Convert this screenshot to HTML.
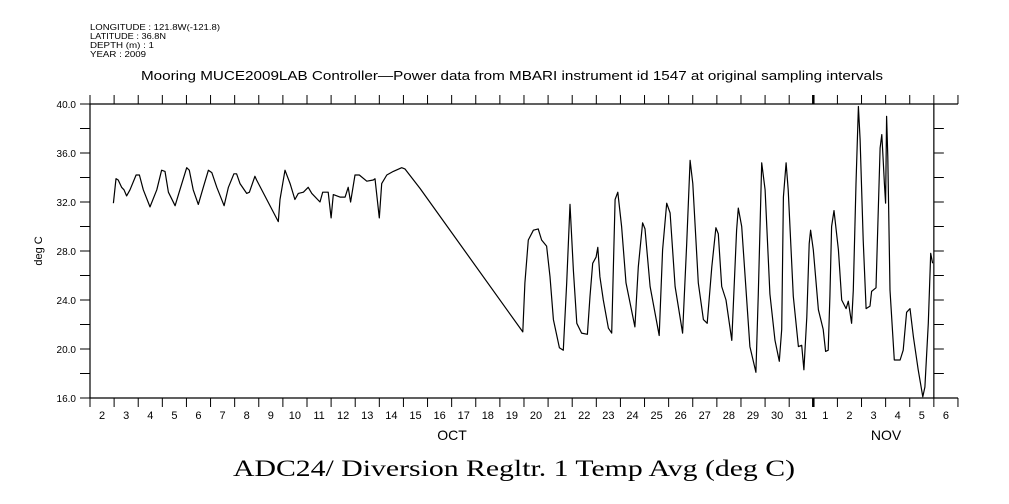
<!DOCTYPE html>
<html><head><meta charset="utf-8"><style>
html,body{margin:0;padding:0;background:#fff;}
svg{display:block;font-family:"Liberation Sans",sans-serif;}
</style></head><body>
<svg id="chart" width="1009" height="504" viewBox="0 0 1009 504" xmlns="http://www.w3.org/2000/svg">
<g font-size="8" fill="#000">
<text x="90" y="30" textLength="130" lengthAdjust="spacingAndGlyphs">LONGITUDE : 121.8W(-121.8)</text>
<text x="90" y="39" textLength="76" lengthAdjust="spacingAndGlyphs">LATITUDE : 36.8N</text>
<text x="90" y="48" textLength="64" lengthAdjust="spacingAndGlyphs">DEPTH (m) : 1</text>
<text x="90" y="57" textLength="56" lengthAdjust="spacingAndGlyphs">YEAR : 2009</text>
</g>
<text x="141" y="80" textLength="742" lengthAdjust="spacingAndGlyphs" font-size="13">Mooring MUCE2009LAB Controller—Power data from MBARI instrument id 1547 at original sampling intervals</text>
<text x="233" y="476" textLength="562" lengthAdjust="spacingAndGlyphs" font-family="Liberation Serif, serif" font-size="23">ADC24/ Diversion Regltr. 1 Temp Avg (deg C)</text>
<text transform="translate(42,251) rotate(-90)" text-anchor="middle" font-size="11">deg C</text>
<text x="452" y="440" text-anchor="middle" font-size="14">OCT</text>
<text x="886" y="440" text-anchor="middle" font-size="14">NOV</text>
<g id="axes"></g>
<g id="series"></g>
</svg>
<script>
const dayLabels=["2","3","4","5","6","7","8","9","10","11","12","13","14","15","16","17","18","19","20","21","22","23","24","25","26","27","28","29","30","31","1","2","3","4","5","6"];
const yTicks=[16,20,24,28,32,36,40];
const tempDays=[0.97,1.08,1.17,1.31,1.41,1.52,1.66,1.91,2.05,2.21,2.49,2.77,2.97,3.11,3.25,3.53,3.73,4.01,4.12,4.28,4.49,4.70,4.91,5.05,5.26,5.56,5.74,5.97,6.08,6.22,6.50,6.61,6.84,6.91,7.81,7.88,8.09,8.30,8.50,8.64,8.85,9.05,9.20,9.54,9.65,9.88,10.00,10.09,10.37,10.58,10.71,10.81,10.99,11.17,11.48,11.75,11.82,12.00,12.10,12.31,12.58,12.93,13.06,13.69,17.95,18.04,18.18,18.39,18.59,18.73,18.94,19.08,19.22,19.47,19.63,19.77,19.91,20.05,20.19,20.39,20.63,20.74,20.85,20.99,21.06,21.15,21.29,21.50,21.64,21.78,21.89,22.05,22.23,22.60,22.74,22.92,23.02,23.23,23.61,23.75,23.92,24.06,24.27,24.58,24.75,24.89,25.00,25.23,25.44,25.60,25.79,25.96,26.06,26.20,26.38,26.62,26.82,26.89,27.03,27.37,27.62,27.72,27.86,28.00,28.20,28.41,28.59,28.69,28.76,28.87,28.96,29.17,29.38,29.52,29.61,29.73,29.83,29.89,30.00,30.21,30.41,30.51,30.62,30.69,30.76,30.86,31.04,31.18,31.36,31.45,31.59,31.66,31.77,31.87,31.94,32.07,32.19,32.35,32.42,32.60,32.77,32.84,32.90,32.95,33.00,33.04,33.09,33.18,33.36,33.60,33.73,33.87,34.01,34.15,34.35,34.54,34.63,34.77,34.87,34.95];
const tempValues=[31.9,33.9,33.8,33.2,33.0,32.5,33.0,34.2,34.2,33.0,31.6,33.0,34.6,34.5,32.8,31.7,33.0,34.8,34.6,33.0,31.8,33.2,34.6,34.4,33.2,31.7,33.2,34.3,34.3,33.5,32.7,32.8,34.1,33.8,30.4,32.2,34.6,33.5,32.2,32.7,32.8,33.2,32.7,32.0,32.8,32.8,30.7,32.6,32.4,32.4,33.2,32.0,34.2,34.2,33.7,33.8,33.9,30.7,33.5,34.2,34.5,34.8,34.7,33.1,21.4,25.4,28.9,29.7,29.8,28.9,28.4,25.9,22.4,20.1,19.9,25.4,31.8,26.4,22.1,21.3,21.2,24.3,27.0,27.5,28.3,25.9,24.0,21.7,21.3,32.2,32.8,30.0,25.4,21.8,26.7,30.3,29.8,25.1,21.1,28.1,31.9,31.1,25.1,21.3,28.6,35.4,33.5,25.4,22.4,22.1,26.7,29.9,29.4,25.1,24.0,20.7,29.7,31.5,30.0,20.2,18.1,24.5,35.2,33.0,24.5,20.7,19.0,21.6,32.4,35.2,33.0,24.3,20.2,20.3,18.3,22.6,28.6,29.7,28.1,23.2,21.6,19.8,19.9,24.3,30.0,31.3,28.1,24.0,23.3,23.9,22.1,24.8,33.5,39.8,37.1,28.9,23.3,23.5,24.7,25.0,36.4,37.5,35.4,33.5,31.9,39.0,35.7,24.8,19.1,19.1,19.9,23.0,23.3,21.0,18.3,16.1,16.9,22.1,27.8,27.0];

const X0=90, DAYW=24.11, YT=104, YB=398;
function xs(d){return X0+d*DAYW;}
function ys(t){return YB-(t-16)/(40-16)*(YB-YT);}
const NS="http://www.w3.org/2000/svg";
const axes=document.getElementById('axes');
function el(tag,attrs,parent){const e=document.createElementNS(NS,tag);for(const k in attrs)e.setAttribute(k,attrs[k]);parent.appendChild(e);return e;}

const frame=el('path',{d:`M${xs(0)},${YT}V${YB}M${xs(35)},${YT}V${YB}M${xs(0)},${YT}H${xs(36)}M${xs(0)},${YB}H${xs(36)}`,stroke:'#000','stroke-width':1.2,fill:'none'},axes);



for(let i=0;i<=36;i++){
  const x=xs(i);const w=(i===30)?2.5:1;
  const t=el('line',{x1:x,x2:x,y1:YT-9,y2:YT,stroke:'#000','stroke-width':w},axes);
  
  
  const b=el('line',{x1:x,x2:x,y1:YB,y2:YB+9,stroke:'#000','stroke-width':w},axes);
  
  
}
dayLabels.forEach((lab,i)=>{
  const t=el('text',{x:xs(i+0.5),y:YB+21,'text-anchor':'middle','font-size':11},axes);
  t.textContent=lab;
  
  
});
for(let v=16;v<=40;v+=2){
  const y=ys(v);
  const l=el('line',{x1:X0-10,x2:X0,y1:y,y2:y,stroke:'#000','stroke-width':1},axes);
  
  
  const r=el('line',{x1:xs(35),x2:xs(35)+10,y1:y,y2:y,stroke:'#000','stroke-width':1},axes);
  
  
}
yTicks.forEach(v=>{
  const t=el('text',{x:X0-14,y:ys(v)+4,'text-anchor':'end','font-size':10},axes);
  t.textContent=v.toFixed(1);
  
  
});
const pts=tempDays.map((d,i)=>xs(d).toFixed(1)+','+ys(tempValues[i]).toFixed(1)).join(' ');
const line=el('polyline',{points:pts,fill:'none',stroke:'#000','stroke-width':1.2,'stroke-linejoin':'round'},document.getElementById('series'));


</script>
</body></html>
